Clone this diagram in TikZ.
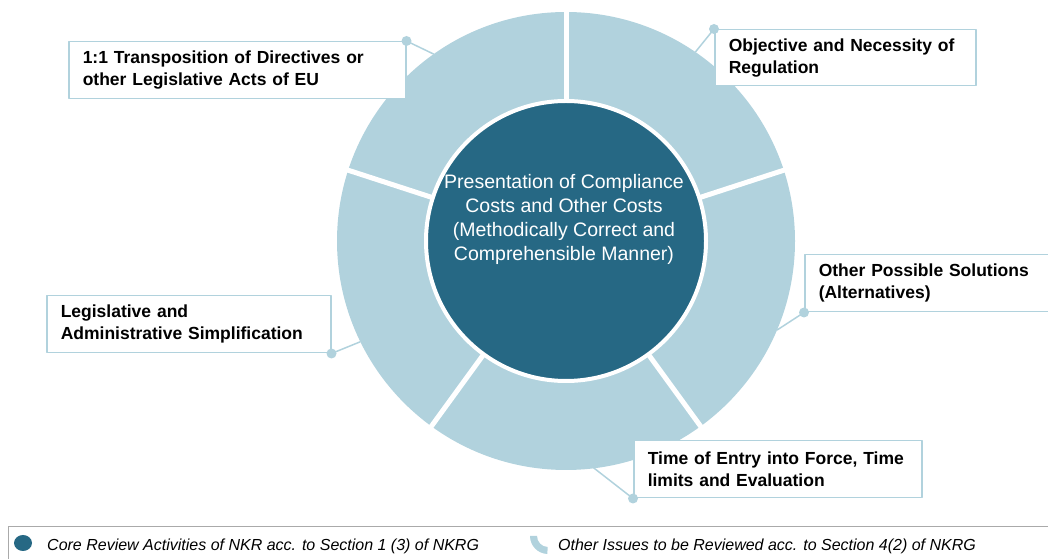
\documentclass[tikz,border=0pt]{standalone}
\usepackage{fontspec}
\setmainfont{Liberation Sans}
\usepackage{tikz}
\usetikzlibrary{positioning}
\definecolor{coreblue}{RGB}{38,104,132}
\definecolor{ringblue}{RGB}{177,210,221}
\definecolor{legendgray}{RGB}{170,170,170}
\tikzset{issuebox/.style={draw=ringblue, line width=1.5bp, fill=white, anchor=north west, align=left, inner xsep=14bp, inner ysep=0pt, font=\bfseries\fontsize{17.5bp}{22bp}\selectfont},
  leader/.style={draw=ringblue, line width=1.5bp},
  keytext/.style={anchor=base west, inner sep=0pt, font=\itshape\fontsize{16bp}{19bp}\selectfont}}

\begin{document}
\begin{tikzpicture}[line join=bevel]
\useasboundingbox (0bp,0bp) rectangle (1048bp,559bp);
%%
\coordinate (c) at (566bp,318bp);
\fill[ringblue] (c) circle (229bp);
\foreach \a in {90,18,-54,-126,162}
  \draw[white, line width=5bp] (c) -- ++(\a:235bp);
\node (core) at (c) [circle, fill=coreblue, draw=white, line width=4bp, minimum size=280bp] {};
\node (coretext) at (564bp,339.5bp) [align=center, text=white, font=\fontsize{19.5bp}{24bp}\selectfont] {Presentation of Compliance\\Costs and Other Costs\\(Methodically Correct and\\Comprehensible Manner)};
%
\path (c) ++(125.3:229bp) coordinate (r1);
\path (c) ++(55.6:229bp) coordinate (r2);
\path (c) ++(-22.9:229bp) coordinate (r3);
\path (c) ++(206.1:229bp) coordinate (r4);
\path (c) ++(-83.7:226bp) coordinate (r5);
%
\node (transp) at (68bp,518bp) [issuebox, minimum height=57bp, text width=309bp] {1:1 Transposition of Directives or\\other Legislative Acts of EU};
\node (objective) at (714bp,530bp) [issuebox, minimum height=56bp, text width=233bp] {Objective and Necessity of\\Regulation};
\node (alternatives) at (804bp,305bp) [issuebox, minimum height=57bp, text width=240bp] {Other Possible Solutions\\(Alternatives)};
\node (simplif) at (46bp,264bp) [issuebox, minimum height=57bp, text width=256bp] {Legislative and\\Administrative Simplification};
\node (timing) at (633bp,119bp) [issuebox, minimum height=57bp, text width=260bp] {Time of Entry into Force, Time\\limits and Evaluation};
%
\draw[leader] (transp.north east) -- (r1);
\draw[leader] (objective.north west) -- (r2);
\draw[leader] (alternatives.south west) -- (r3);
\draw[leader] (simplif.south east) -- (r4);
\draw[leader] (timing.south west) -- (r5);
\foreach \p in {transp.north east, objective.north west, alternatives.south west, simplif.south east, timing.south west}
  \fill[ringblue] (\p) circle (5bp);
%
\draw[legendgray, line width=1bp] (8bp,0bp) -- (8bp,32bp) -- (1048bp,32bp);
\fill[coreblue] (23bp,16bp) ellipse (9bp and 8bp);
\node (corekey) at (47bp,9bp) [keytext] {Core Review Activities of NKR acc. to Section 1 (3) of NKRG};
\fill[ringblue] (530bp,23bp) arc[start angle=180, end angle=268, radius=18bp] -- ++(88:7bp) arc[start angle=268, end angle=180, radius=11bp] -- cycle;
\node (otherkey) at (558bp,9bp) [keytext] {Other Issues to be Reviewed acc. to Section 4(2) of NKRG};
%
\end{tikzpicture}
\end{document}
